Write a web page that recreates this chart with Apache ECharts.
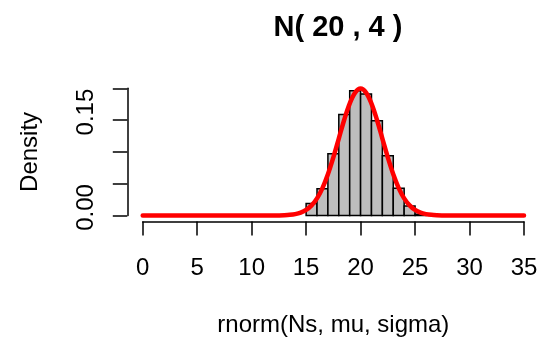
<!DOCTYPE html>
<html><head><meta charset="utf-8">
<script src="https://cdn.jsdelivr.net/npm/echarts@6/dist/echarts.min.js"></script>
<style>html,body{margin:0;padding:0;background:#fff}#c{width:542px;height:344px}</style>
</head><body><div id="c"></div>
<script>
const titleText = 'N( 20 , 4 )';
const xTitle = 'rnorm(Ns, mu, sigma)';
const yTitle = 'Density';
const binStart = [15, 16, 17, 18, 19, 20, 21, 22, 23, 24, 25];
const binEnd   = [16, 17, 18, 19, 20, 21, 22, 23, 24, 25, 26];
const binDensity = [0.019, 0.042, 0.097, 0.159, 0.196, 0.191, 0.149, 0.094, 0.043, 0.015, 0.002];
const curveX = [0, 5, 10, 11, 12, 12.5, 13, 13.5, 14, 14.5, 15, 15.5, 16, 16.5, 17, 17.5, 18, 18.5, 19, 19.5, 20,
  20.5, 21, 21.5, 22, 22.5, 23, 23.5, 24, 24.5, 25, 25.5, 26, 26.5, 27, 27.5, 28, 29, 30, 35];
const curveY = [0, 0, 0, 0.000002, 0.00007, 0.00018, 0.00044, 0.00102, 0.00222, 0.00455, 0.00876, 0.01587, 0.0270, 0.0431, 0.0648, 0.0913, 0.1210, 0.1506, 0.1760, 0.1933, 0.1995,
  0.1933, 0.1760, 0.1506, 0.1210, 0.0913, 0.0648, 0.0431, 0.0270, 0.01587, 0.00876, 0.00455, 0.00222, 0.00102, 0.00044, 0.00018, 0.00007, 0.000002, 0, 0];
const yLabelsShown = ['0.00', '0.15'];

const FONT = '"Liberation Sans", Arial, sans-serif';
const chart = echarts.init(document.getElementById('c'), null, {renderer: 'canvas'});
const barData = binStart.map((s, i) => [s, binEnd[i], binDensity[i]]);
const curveData = curveX.map((x, i) => [x, curveY[i]]);

chart.setOption({
  animation: false,
  backgroundColor: '#fff',
  title: {
    text: titleText, left: 333, top: 8, textAlign: 'center',
    textStyle: {fontFamily: FONT, fontWeight: 'bold', fontSize: 29, color: '#000'}
  },
  grid: {left: 142.7, right: 18, top: 88.3, bottom: 128.5},
  xAxis: {
    type: 'value', min: 0, max: 35, interval: 5, offset: 6,
    name: xTitle, nameLocation: 'middle', nameGap: 92,
    nameTextStyle: {fontFamily: FONT, fontSize: 24, color: '#000'},
    axisLine: {show: true, onZero: false, lineStyle: {color: '#000', width: 1.5}},
    axisTick: {show: true, length: 14, lineStyle: {color: '#000', width: 1.5}},
    axisLabel: {fontFamily: FONT, fontSize: 24, color: '#000', margin: 35},
    splitLine: {show: false}
  },
  yAxis: {
    type: 'value', min: 0, max: 0.2, interval: 0.05, offset: 15.4,
    name: yTitle, nameLocation: 'middle', nameGap: 85, nameRotate: 90,
    nameTextStyle: {fontFamily: FONT, fontSize: 24, color: '#000'},
    axisLine: {show: true, onZero: false, lineStyle: {color: '#000', width: 1.5}},
    axisTick: {show: true, length: 14.5, lineStyle: {color: '#000', width: 1.5}},
    axisLabel: {
      fontFamily: FONT, fontSize: 24, color: '#000', rotate: 90, margin: 29,
      padding: [0, 0, 0, 16],
      formatter: v => { const s = v.toFixed(2); return yLabelsShown.includes(s) ? s : ''; }
    },
    splitLine: {show: false}
  },
  series: [
    {
      type: 'custom', z: 2, clip: false,
      data: barData,
      renderItem: (params, api) => {
        const p0 = api.coord([api.value(0), 0]);
        const p1 = api.coord([api.value(1), api.value(2)]);
        return {
          type: 'rect',
          shape: {x: p0[0], y: p1[1], width: p1[0] - p0[0], height: p0[1] - p1[1]},
          style: {fill: '#BEBEBE', stroke: '#000', lineWidth: 1.5}
        };
      },
      encode: {x: [0, 1], y: 2}
    },
    {
      type: 'line', z: 3, data: curveData, smooth: 0.35, showSymbol: false, clip: false,
      lineStyle: {color: '#FF0000', width: 4.5, cap: 'round', join: 'round'}
    }
  ]
});
</script></body></html>
